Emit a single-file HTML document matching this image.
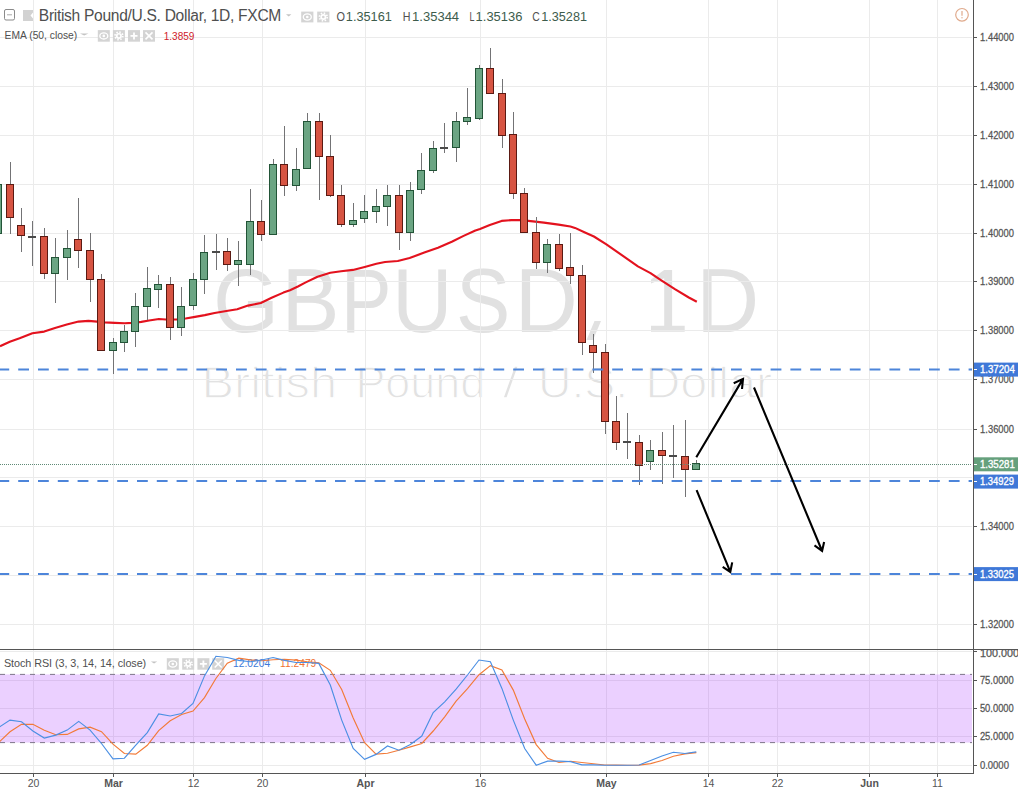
<!DOCTYPE html>
<html><head><meta charset="utf-8"><style>
html,body{margin:0;padding:0;background:#fff;overflow:hidden;}
svg{display:block;font-family:"Liberation Sans", sans-serif;}
</style></head><body>
<svg width="1018" height="789" viewBox="0 0 1018 789">
<rect x="0" y="0" width="1018" height="789" fill="#ffffff"/>
<g>
<text transform="translate(213.31 332.00) scale(0.9230 1)" font-size="91.4" fill="#e1e1e1" xml:space="preserve" >G</text>
<text transform="translate(281.44 332.00) scale(0.9510 1)" font-size="91.4" fill="#e1e1e1" xml:space="preserve" >B</text>
<text transform="translate(340.91 332.00) scale(0.8265 1)" font-size="91.4" fill="#e1e1e1" xml:space="preserve" >P</text>
<text transform="translate(392.32 332.00) scale(0.9115 1)" font-size="91.4" fill="#e1e1e1" xml:space="preserve" >U</text>
<text transform="translate(456.04 332.00) scale(0.8906 1)" font-size="91.4" fill="#e1e1e1" xml:space="preserve" >S</text>
<text transform="translate(514.82 332.00) scale(0.9545 1)" font-size="91.4" fill="#e1e1e1" xml:space="preserve" >D</text>
<text transform="translate(696.23 332.00) scale(0.9527 1)" font-size="91.4" fill="#e1e1e1" xml:space="preserve" >D</text>
<path d="M664.2 269.9H672.1V325.7H684.7V331.8H651V325.7H664.2V278.2L651 283.6V279.4Z" fill="#e1e1e1"/>
<path d="M594.5 321H601L593 340H586.5Z" fill="#e1e1e1"/>
<text transform="translate(201.42 397.80) scale(1.0950 1)" font-size="44.6" fill="#e2e2e2" xml:space="preserve" stroke="#fff" stroke-width="1.3">British</text>
<text transform="translate(355.38 397.80) scale(1.0073 1)" font-size="44.6" fill="#e2e2e2" xml:space="preserve" stroke="#fff" stroke-width="1.3">Pound</text>
<text transform="translate(502.80 397.80) scale(1.2769 1)" font-size="44.6" fill="#e2e2e2" xml:space="preserve" stroke="#fff" stroke-width="1.3">/</text>
<text transform="translate(537.98 397.80) scale(1.0400 1)" font-size="44.6" fill="#e2e2e2" xml:space="preserve" stroke="#fff" stroke-width="1.3">U.S.</text>
<text transform="translate(645.23 397.80) scale(1.0912 1)" font-size="44.6" fill="#e2e2e2" xml:space="preserve" stroke="#fff" stroke-width="1.3">Dollar</text>
</g>
<path d="M0 37.5H972M0 86.5H972M0 135.5H972M0 184.5H972M0 233.5H972M0 281.5H972M0 330.5H972M0 379.5H972M0 429.5H972M0 477.5H972M0 526.5H972M0 575.5H972M0 624.5H972M33.5 0V649M33.5 650V773M113.5 0V649M113.5 650V773M193.5 0V649M193.5 650V773M262.5 0V649M262.5 650V773M365.5 0V649M365.5 650V773M480.5 0V649M480.5 650V773M606.5 0V649M606.5 650V773M708.5 0V649M708.5 650V773M777.5 0V649M777.5 650V773M869.5 0V649M869.5 650V773M937.5 0V649M937.5 650V773M0 651.5H972M0 680.5H972M0 708.5H972M0 736.5H972M0 765.5H972" stroke="#ebebeb" stroke-width="1" fill="none" shape-rendering="crispEdges"/>
<rect x="0" y="674.4" width="972" height="68.2" fill="#9915ff" fill-opacity="0.2"/>
<path d="M0 674.4H972M0 742.6H972" stroke="#7e7689" stroke-width="1" stroke-dasharray="5 5" fill="none"/>
<polyline points="0.0,346.2 9.8,341.7 19.6,338.3 32.4,333.2 44.2,331.6 55.0,328.0 66.8,324.6 78.6,321.6 88.4,320.9 97.2,321.6 104.9,322.4 114.7,322.9 124.6,323.2 132.4,322.9 141.3,321.9 149.1,320.5 158.9,319.0 165.8,319.5 176.6,319.5 185.5,318.5 195.0,316.9 204.8,315.1 214.6,313.0 226.4,311.0 237.2,309.2 248.0,305.6 260.8,303.0 271.6,297.7 283.4,292.6 290.0,290.2 297.9,286.5 305.7,282.4 317.5,276.7 330.3,272.8 341.1,271.3 352.9,269.9 364.7,266.9 376.4,263.7 385.0,262.0 397.8,261.0 409.6,258.0 424.3,252.6 438.0,247.7 451.8,241.8 463.6,235.9 475.4,230.5 480.0,229.0 489.8,225.0 501.6,220.9 511.4,220.1 521.3,220.1 533.0,221.4 543.9,222.6 558.6,224.6 570.4,226.5 575.0,227.9 584.4,232.2 593.9,236.5 606.4,244.4 622.2,255.4 637.9,266.4 650.5,273.1 660.9,280.1 674.9,289.2 688.8,297.5 696.8,301.7" fill="none" stroke="#e3121e" stroke-width="2.1" stroke-linejoin="round"/>
<g shape-rendering="crispEdges"><rect x="-5.5" y="184.1" width="7" height="49.7" fill="#6ba583" stroke="#225437" stroke-width="1"/><rect x="10.0" y="161.8" width="1" height="72.4" fill="#737375"/><rect x="6.5" y="184.1" width="7" height="32.9" fill="#d75442" stroke="#5b1a13" stroke-width="1"/><rect x="21.0" y="208.2" width="1" height="44.2" fill="#737375"/><rect x="17.5" y="225.7" width="7" height="10.1" fill="#d75442" stroke="#5b1a13" stroke-width="1"/><rect x="32.0" y="221.0" width="1" height="44.6" fill="#737375"/><rect x="28.5" y="236.0" width="7" height="1.0" fill="#4a4a4a" stroke="#4a4a4a" stroke-width="1"/><rect x="44.0" y="227.7" width="1" height="51.5" fill="#737375"/><rect x="40.5" y="236.2" width="7" height="37.5" fill="#d75442" stroke="#5b1a13" stroke-width="1"/><rect x="55.0" y="237.8" width="1" height="64.7" fill="#737375"/><rect x="51.5" y="257.1" width="7" height="16.4" fill="#6ba583" stroke="#225437" stroke-width="1"/><rect x="67.0" y="230.2" width="1" height="49.5" fill="#737375"/><rect x="63.5" y="248.0" width="7" height="9.5" fill="#6ba583" stroke="#225437" stroke-width="1"/><rect x="78.0" y="198.1" width="1" height="69.8" fill="#737375"/><rect x="74.5" y="239.9" width="7" height="10.7" fill="#d75442" stroke="#5b1a13" stroke-width="1"/><rect x="90.0" y="233.4" width="1" height="68.3" fill="#737375"/><rect x="86.5" y="250.0" width="7" height="29.7" fill="#d75442" stroke="#5b1a13" stroke-width="1"/><rect x="101.0" y="273.9" width="1" height="76.9" fill="#737375"/><rect x="97.5" y="279.7" width="7" height="71.1" fill="#d75442" stroke="#5b1a13" stroke-width="1"/><rect x="113.0" y="337.9" width="1" height="36.0" fill="#737375"/><rect x="109.5" y="342.2" width="7" height="8.6" fill="#6ba583" stroke="#225437" stroke-width="1"/><rect x="124.0" y="324.5" width="1" height="27.4" fill="#737375"/><rect x="120.5" y="331.2" width="7" height="11.4" fill="#6ba583" stroke="#225437" stroke-width="1"/><rect x="135.0" y="293.0" width="1" height="53.6" fill="#737375"/><rect x="131.5" y="306.4" width="7" height="24.9" fill="#6ba583" stroke="#225437" stroke-width="1"/><rect x="147.0" y="266.9" width="1" height="52.8" fill="#737375"/><rect x="143.5" y="288.4" width="7" height="18.2" fill="#6ba583" stroke="#225437" stroke-width="1"/><rect x="158.0" y="274.9" width="1" height="33.0" fill="#737375"/><rect x="154.5" y="284.2" width="7" height="4.9" fill="#6ba583" stroke="#225437" stroke-width="1"/><rect x="170.0" y="276.5" width="1" height="63.2" fill="#737375"/><rect x="166.5" y="284.2" width="7" height="43.3" fill="#d75442" stroke="#5b1a13" stroke-width="1"/><rect x="181.0" y="286.7" width="1" height="49.2" fill="#737375"/><rect x="177.5" y="306.6" width="7" height="20.9" fill="#6ba583" stroke="#225437" stroke-width="1"/><rect x="193.0" y="273.0" width="1" height="37.4" fill="#737375"/><rect x="189.5" y="279.7" width="7" height="26.1" fill="#6ba583" stroke="#225437" stroke-width="1"/><rect x="204.0" y="234.9" width="1" height="58.6" fill="#737375"/><rect x="200.5" y="252.5" width="7" height="27.3" fill="#6ba583" stroke="#225437" stroke-width="1"/><rect x="216.0" y="234.3" width="1" height="35.5" fill="#737375"/><rect x="212.5" y="251.6" width="7" height="1.0" fill="#4a4a4a" stroke="#4a4a4a" stroke-width="1"/><rect x="227.0" y="238.0" width="1" height="33.4" fill="#737375"/><rect x="223.5" y="251.7" width="7" height="13.0" fill="#d75442" stroke="#5b1a13" stroke-width="1"/><rect x="238.0" y="241.4" width="1" height="45.0" fill="#737375"/><rect x="234.5" y="260.0" width="7" height="4.7" fill="#6ba583" stroke="#225437" stroke-width="1"/><rect x="250.0" y="189.3" width="1" height="85.6" fill="#737375"/><rect x="246.5" y="221.1" width="7" height="43.6" fill="#6ba583" stroke="#225437" stroke-width="1"/><rect x="261.0" y="199.8" width="1" height="41.0" fill="#737375"/><rect x="257.5" y="221.1" width="7" height="13.2" fill="#d75442" stroke="#5b1a13" stroke-width="1"/><rect x="273.0" y="158.6" width="1" height="75.6" fill="#737375"/><rect x="269.5" y="164.4" width="7" height="69.8" fill="#6ba583" stroke="#225437" stroke-width="1"/><rect x="284.0" y="125.7" width="1" height="70.1" fill="#737375"/><rect x="280.5" y="164.4" width="7" height="21.1" fill="#d75442" stroke="#5b1a13" stroke-width="1"/><rect x="296.0" y="147.9" width="1" height="43.5" fill="#737375"/><rect x="292.5" y="169.2" width="7" height="16.3" fill="#6ba583" stroke="#225437" stroke-width="1"/><rect x="307.0" y="112.8" width="1" height="55.5" fill="#737375"/><rect x="303.5" y="121.3" width="7" height="47.0" fill="#6ba583" stroke="#225437" stroke-width="1"/><rect x="319.0" y="112.8" width="1" height="87.4" fill="#737375"/><rect x="315.5" y="121.3" width="7" height="35.5" fill="#d75442" stroke="#5b1a13" stroke-width="1"/><rect x="330.0" y="134.6" width="1" height="62.6" fill="#737375"/><rect x="326.5" y="156.4" width="7" height="39.4" fill="#d75442" stroke="#5b1a13" stroke-width="1"/><rect x="341.0" y="184.7" width="1" height="42.6" fill="#737375"/><rect x="337.5" y="195.2" width="7" height="29.2" fill="#d75442" stroke="#5b1a13" stroke-width="1"/><rect x="353.0" y="202.8" width="1" height="23.7" fill="#737375"/><rect x="349.5" y="220.2" width="7" height="4.4" fill="#6ba583" stroke="#225437" stroke-width="1"/><rect x="364.0" y="195.2" width="1" height="28.2" fill="#737375"/><rect x="360.5" y="211.3" width="7" height="7.4" fill="#6ba583" stroke="#225437" stroke-width="1"/><rect x="376.0" y="189.4" width="1" height="33.3" fill="#737375"/><rect x="372.5" y="206.3" width="7" height="5.4" fill="#6ba583" stroke="#225437" stroke-width="1"/><rect x="387.0" y="184.7" width="1" height="41.0" fill="#737375"/><rect x="383.5" y="195.2" width="7" height="11.4" fill="#6ba583" stroke="#225437" stroke-width="1"/><rect x="399.0" y="184.7" width="1" height="65.0" fill="#737375"/><rect x="395.5" y="195.2" width="7" height="37.3" fill="#d75442" stroke="#5b1a13" stroke-width="1"/><rect x="410.0" y="181.7" width="1" height="58.9" fill="#737375"/><rect x="406.5" y="190.7" width="7" height="41.8" fill="#6ba583" stroke="#225437" stroke-width="1"/><rect x="421.0" y="152.9" width="1" height="41.2" fill="#737375"/><rect x="417.5" y="170.0" width="7" height="19.4" fill="#6ba583" stroke="#225437" stroke-width="1"/><rect x="433.0" y="140.9" width="1" height="32.3" fill="#737375"/><rect x="429.5" y="148.1" width="7" height="22.6" fill="#6ba583" stroke="#225437" stroke-width="1"/><rect x="444.0" y="122.8" width="1" height="30.4" fill="#737375"/><rect x="440.5" y="147.4" width="7" height="1.0" fill="#4a4a4a" stroke="#4a4a4a" stroke-width="1"/><rect x="456.0" y="112.0" width="1" height="49.7" fill="#737375"/><rect x="452.5" y="121.2" width="7" height="26.3" fill="#6ba583" stroke="#225437" stroke-width="1"/><rect x="467.0" y="88.1" width="1" height="36.4" fill="#737375"/><rect x="463.5" y="117.7" width="7" height="3.8" fill="#6ba583" stroke="#225437" stroke-width="1"/><rect x="479.0" y="64.7" width="1" height="55.4" fill="#737375"/><rect x="475.5" y="68.0" width="7" height="50.5" fill="#6ba583" stroke="#225437" stroke-width="1"/><rect x="490.0" y="48.1" width="1" height="45.6" fill="#737375"/><rect x="486.5" y="68.0" width="7" height="25.7" fill="#d75442" stroke="#5b1a13" stroke-width="1"/><rect x="502.0" y="78.9" width="1" height="68.6" fill="#737375"/><rect x="498.5" y="93.3" width="7" height="42.0" fill="#d75442" stroke="#5b1a13" stroke-width="1"/><rect x="513.0" y="112.0" width="1" height="87.1" fill="#737375"/><rect x="509.5" y="134.9" width="7" height="58.6" fill="#d75442" stroke="#5b1a13" stroke-width="1"/><rect x="524.0" y="188.4" width="1" height="44.1" fill="#737375"/><rect x="520.5" y="193.4" width="7" height="39.1" fill="#d75442" stroke="#5b1a13" stroke-width="1"/><rect x="536.0" y="217.0" width="1" height="51.7" fill="#737375"/><rect x="532.5" y="232.9" width="7" height="30.0" fill="#d75442" stroke="#5b1a13" stroke-width="1"/><rect x="547.0" y="238.9" width="1" height="33.9" fill="#737375"/><rect x="543.5" y="244.3" width="7" height="18.6" fill="#6ba583" stroke="#225437" stroke-width="1"/><rect x="559.0" y="234.0" width="1" height="36.5" fill="#737375"/><rect x="555.5" y="244.3" width="7" height="23.9" fill="#d75442" stroke="#5b1a13" stroke-width="1"/><rect x="570.0" y="233.2" width="1" height="50.7" fill="#737375"/><rect x="566.5" y="267.9" width="7" height="7.6" fill="#d75442" stroke="#5b1a13" stroke-width="1"/><rect x="582.0" y="264.9" width="1" height="90.5" fill="#737375"/><rect x="578.5" y="275.3" width="7" height="67.3" fill="#d75442" stroke="#5b1a13" stroke-width="1"/><rect x="593.0" y="334.2" width="1" height="38.3" fill="#737375"/><rect x="589.5" y="345.6" width="7" height="6.8" fill="#d75442" stroke="#5b1a13" stroke-width="1"/><rect x="605.0" y="344.0" width="1" height="89.5" fill="#737375"/><rect x="601.5" y="352.4" width="7" height="69.3" fill="#d75442" stroke="#5b1a13" stroke-width="1"/><rect x="616.0" y="396.3" width="1" height="53.7" fill="#737375"/><rect x="612.5" y="421.4" width="7" height="21.3" fill="#d75442" stroke="#5b1a13" stroke-width="1"/><rect x="627.0" y="413.4" width="1" height="45.6" fill="#737375"/><rect x="623.5" y="441.9" width="7" height="1.0" fill="#4a4a4a" stroke="#4a4a4a" stroke-width="1"/><rect x="639.0" y="434.6" width="1" height="50.2" fill="#737375"/><rect x="635.5" y="442.3" width="7" height="23.0" fill="#d75442" stroke="#5b1a13" stroke-width="1"/><rect x="650.0" y="439.9" width="1" height="30.0" fill="#737375"/><rect x="646.5" y="450.2" width="7" height="11.6" fill="#6ba583" stroke="#225437" stroke-width="1"/><rect x="662.0" y="432.0" width="1" height="51.8" fill="#737375"/><rect x="658.5" y="450.1" width="7" height="5.5" fill="#d75442" stroke="#5b1a13" stroke-width="1"/><rect x="673.0" y="425.0" width="1" height="53.3" fill="#737375"/><rect x="669.5" y="455.2" width="7" height="1.0" fill="#4a4a4a" stroke="#4a4a4a" stroke-width="1"/><rect x="685.0" y="420.0" width="1" height="76.9" fill="#737375"/><rect x="681.5" y="456.0" width="7" height="13.6" fill="#d75442" stroke="#5b1a13" stroke-width="1"/><rect x="696.0" y="460.1" width="1" height="10.2" fill="#737375"/><rect x="692.5" y="463.9" width="7" height="5.7" fill="#6ba583" stroke="#225437" stroke-width="1"/></g>
<path d="M0 369.6H972" stroke="#4d85da" stroke-width="2" stroke-dasharray="10.8 9" stroke-dashoffset="1.6" fill="none"/>
<path d="M0 480.9H972" stroke="#4d85da" stroke-width="2" stroke-dasharray="10.8 9" stroke-dashoffset="1.6" fill="none"/>
<path d="M0 574.1H972" stroke="#4d85da" stroke-width="2" stroke-dasharray="10.8 9" stroke-dashoffset="1.6" fill="none"/>
<path d="M0 464.5H972" stroke="#5f8a76" stroke-width="1" stroke-dasharray="1 1" fill="none" shape-rendering="crispEdges"/>
<path d="M696.3 457.2L743 378.9M733.7 383.3L743 378.9L742 389" stroke="#000" stroke-width="2.1" fill="none" stroke-linecap="butt" stroke-linejoin="miter"/>
<path d="M754 387.5L822.1 551M814.5 545.4L822.1 551L824.1 541.9" stroke="#000" stroke-width="2.1" fill="none" stroke-linecap="butt" stroke-linejoin="miter"/>
<path d="M696.6 490.1L730.3 571.9M722.7 566.8L730.3 571.9L732.2 562.4" stroke="#000" stroke-width="2.1" fill="none" stroke-linecap="butt" stroke-linejoin="miter"/>
<text x="3.90" y="666.90" letter-spacing="-0.057" font-size="10.8" fill="#4f4f4f" xml:space="preserve" >Stoch RSI (3, 3, 14, 14, close)</text>
<path d="M150.9 661.4H157.2L154.05 663.6Z" fill="#c4c4c4"/>
<rect x="166.8" y="658.2" width="12" height="11.5" fill="#d4d4d4"/><ellipse cx="172.8" cy="663.95" rx="4" ry="3.1" fill="none" stroke="#fff" stroke-width="1.3"/><circle cx="172.8" cy="663.95" r="1.3" fill="#fff"/><rect x="182.2" y="658.2" width="12" height="11.5" fill="#d4d4d4"/><circle cx="188.2" cy="663.95" r="3" fill="#fff"/><circle cx="188.2" cy="663.95" r="3.9" fill="none" stroke="#fff" stroke-width="1.6" stroke-dasharray="1.5 1.56"/><circle cx="188.2" cy="663.95" r="1.3" fill="#d4d4d4"/><rect x="197.4" y="658.2" width="12" height="11.5" fill="#d4d4d4"/><path d="M199.9 663.95H206.9M203.4 660.45V667.45" stroke="#fff" stroke-width="1.8"/><rect x="212.2" y="658.2" width="12" height="11.5" fill="#d4d4d4"/><path d="M214.7 660.45L221.7 667.45M221.7 660.45L214.7 667.45" stroke="#fff" stroke-width="1.6"/>
<text transform="translate(233.10 667.30) scale(0.9763 1)" font-size="10.5" fill="#3c78d8" xml:space="preserve" >12.0204</text>
<text transform="translate(280.00 667.30) scale(0.9784 1)" font-size="10.5" fill="#f07030" xml:space="preserve" >11.2479</text>
<polyline points="-1.4,742.6 10.0,731.8 21.5,724.3 32.9,724.3 44.3,730.3 55.8,734.7 67.2,734.4 78.7,728.9 90.1,727.2 101.5,731.7 113.0,744.1 124.4,753.5 135.8,754.1 147.3,745.3 158.7,730.6 170.2,720.8 181.6,714.5 193.0,711.0 204.5,697.6 215.9,678.5 227.3,663.2 238.8,658.1 250.2,659.9 261.7,660.7 273.1,659.7 284.5,659.3 296.0,660.1 307.4,661.8 318.8,662.8 330.3,670.3 341.7,689.5 353.2,717.9 364.6,742.7 376.0,754.1 387.5,753.3 398.9,750.2 410.4,746.9 421.8,743.5 433.2,731.0 444.7,716.8 456.1,701.2 467.5,688.7 479.0,674.7 490.4,665.6 501.9,670.0 513.3,690.1 524.7,719.0 536.2,744.6 547.6,758.3 559.0,762.5 570.5,761.3 581.9,762.5 593.4,763.8 604.8,765.0 616.2,765.1 627.7,765.2 639.1,765.1 650.6,763.6 662.0,760.5 673.4,756.3 684.9,753.9 696.3,752.6" fill="none" stroke="#f27a38" stroke-width="1.15"/>
<polyline points="-1.4,727.6 10.0,720.1 21.5,721.8 32.9,731.0 44.3,738.1 55.8,735.1 67.2,730.1 78.7,721.4 90.1,730.1 101.5,743.5 113.0,758.8 124.4,758.2 135.8,745.2 147.3,732.6 158.7,713.9 170.2,716.0 181.6,713.5 193.0,703.4 204.5,675.9 215.9,656.3 227.3,657.5 238.8,660.4 250.2,661.7 261.7,660.0 273.1,657.5 284.5,660.4 296.0,662.5 307.4,662.5 318.8,663.4 330.3,685.1 341.7,720.1 353.2,748.5 364.6,759.4 376.0,754.4 387.5,746.0 398.9,750.2 410.4,744.4 421.8,736.0 433.2,712.6 444.7,701.8 456.1,689.2 467.5,675.0 479.0,660.0 490.4,661.7 501.9,688.4 513.3,720.1 524.7,748.5 536.2,765.2 547.6,761.1 559.0,761.1 570.5,761.6 581.9,764.9 593.4,764.9 604.8,765.2 616.2,765.2 627.7,765.2 639.1,765.0 650.6,760.5 662.0,756.0 673.4,752.3 684.9,753.5 696.3,751.9" fill="none" stroke="#4b8fe3" stroke-width="1.15"/>
<path d="M973.5 0V773.5M0 649.5H1018M0 773.5H974.0" stroke="#555555" stroke-width="1" fill="none" shape-rendering="crispEdges"/>
<text transform="translate(980.10 41.00) scale(0.8846 1)" font-size="10.6" fill="#555" xml:space="preserve" stroke="#555" stroke-width="0.25">1.44000</text>
<text transform="translate(980.10 90.00) scale(0.8846 1)" font-size="10.6" fill="#555" xml:space="preserve" stroke="#555" stroke-width="0.25">1.43000</text>
<text transform="translate(980.10 139.00) scale(0.8846 1)" font-size="10.6" fill="#555" xml:space="preserve" stroke="#555" stroke-width="0.25">1.42000</text>
<text transform="translate(980.10 188.00) scale(0.8846 1)" font-size="10.6" fill="#555" xml:space="preserve" stroke="#555" stroke-width="0.25">1.41000</text>
<text transform="translate(980.10 237.00) scale(0.8846 1)" font-size="10.6" fill="#555" xml:space="preserve" stroke="#555" stroke-width="0.25">1.40000</text>
<text transform="translate(980.10 285.00) scale(0.8846 1)" font-size="10.6" fill="#555" xml:space="preserve" stroke="#555" stroke-width="0.25">1.39000</text>
<text transform="translate(980.10 334.00) scale(0.8846 1)" font-size="10.6" fill="#555" xml:space="preserve" stroke="#555" stroke-width="0.25">1.38000</text>
<text transform="translate(980.10 383.00) scale(0.8846 1)" font-size="10.6" fill="#555" xml:space="preserve" stroke="#555" stroke-width="0.25">1.37000</text>
<text transform="translate(980.10 433.00) scale(0.8846 1)" font-size="10.6" fill="#555" xml:space="preserve" stroke="#555" stroke-width="0.25">1.36000</text>
<text transform="translate(980.10 530.00) scale(0.8846 1)" font-size="10.6" fill="#555" xml:space="preserve" stroke="#555" stroke-width="0.25">1.34000</text>
<text transform="translate(980.10 628.00) scale(0.8846 1)" font-size="10.6" fill="#555" xml:space="preserve" stroke="#555" stroke-width="0.25">1.32000</text>
<text x="979.9" y="656.5" font-size="10.6" fill="#555" stroke="#555" stroke-width="0.25" textLength="45" lengthAdjust="spacingAndGlyphs">100.0000</text>
<text transform="translate(979.90 684.10) scale(0.8846 1)" font-size="10.6" fill="#555" xml:space="preserve" stroke="#555" stroke-width="0.25">75.0000</text>
<text transform="translate(979.90 712.10) scale(0.8846 1)" font-size="10.6" fill="#555" xml:space="preserve" stroke="#555" stroke-width="0.25">50.0000</text>
<text transform="translate(979.90 740.10) scale(0.8846 1)" font-size="10.6" fill="#555" xml:space="preserve" stroke="#555" stroke-width="0.25">25.0000</text>
<text transform="translate(979.90 769.10) scale(0.8961 1)" font-size="10.6" fill="#555" xml:space="preserve" stroke="#555" stroke-width="0.25">0.0000</text>
<path d="M974 37.5H976.5M974 86.5H976.5M974 135.5H976.5M974 184.5H976.5M974 233.5H976.5M974 281.5H976.5M974 330.5H976.5M974 379.5H976.5M974 429.5H976.5M974 477.5H976.5M974 526.5H976.5M974 575.5H976.5M974 624.5H976.5M974 651.5H976.5M974 680.5H976.5M974 708.5H976.5M974 736.5H976.5M974 765.5H976.5M33.5 774V777M113.5 774V777M193.5 774V777M262.5 774V777M365.5 774V777M480.5 774V777M606.5 774V777M708.5 774V777M777.5 774V777M869.5 774V777M937.5 774V777" stroke="#555555" stroke-width="1" fill="none" shape-rendering="crispEdges"/>
<rect x="974" y="362.6" width="44" height="14" fill="#3f78d8"/><path d="M974 369.5H976.5" stroke="#fff" stroke-width="1" shape-rendering="crispEdges"/>
<text transform="translate(979.90 373.24) scale(0.9132 1)" font-size="10.6" fill="#fff" xml:space="preserve" stroke="#fff" stroke-width="0.35">1.37204</text>
<rect x="974" y="457.3" width="44" height="14" fill="#65a07c"/><path d="M974 464.5H976.5" stroke="#fff" stroke-width="1" shape-rendering="crispEdges"/>
<text transform="translate(979.90 467.90) scale(0.9132 1)" font-size="10.6" fill="#fff" xml:space="preserve" stroke="#fff" stroke-width="0.35">1.35281</text>
<rect x="974" y="474.6" width="44" height="14" fill="#3f78d8"/><path d="M974 481.5H976.5" stroke="#fff" stroke-width="1" shape-rendering="crispEdges"/>
<text transform="translate(979.90 485.20) scale(0.8897 1)" font-size="10.6" fill="#fff" xml:space="preserve" stroke="#fff" stroke-width="0.35">1.34929</text>
<rect x="974" y="567.1" width="44" height="14" fill="#3f78d8"/><path d="M974 574.5H976.5" stroke="#fff" stroke-width="1" shape-rendering="crispEdges"/>
<text transform="translate(979.90 577.66) scale(0.8897 1)" font-size="10.6" fill="#fff" xml:space="preserve" stroke="#fff" stroke-width="0.35">1.33025</text>
<text x="33.5" y="786.5" font-size="10.5" fill="#555" text-anchor="middle">20</text>
<text x="113.5" y="786.5" font-size="10.5" fill="#555" text-anchor="middle" font-weight="bold">Mar</text>
<text x="193.5" y="786.5" font-size="10.5" fill="#555" text-anchor="middle">12</text>
<text x="262.5" y="786.5" font-size="10.5" fill="#555" text-anchor="middle">20</text>
<text x="365.5" y="786.5" font-size="10.5" fill="#555" text-anchor="middle" font-weight="bold">Apr</text>
<text x="480.5" y="786.5" font-size="10.5" fill="#555" text-anchor="middle">16</text>
<text x="606.5" y="786.5" font-size="10.5" fill="#555" text-anchor="middle" font-weight="bold">May</text>
<text x="708.5" y="786.5" font-size="10.5" fill="#555" text-anchor="middle">14</text>
<text x="777.5" y="786.5" font-size="10.5" fill="#555" text-anchor="middle">22</text>
<text x="869.5" y="786.5" font-size="10.5" fill="#555" text-anchor="middle" font-weight="bold">Jun</text>
<text x="937.5" y="786.5" font-size="10.5" fill="#555" text-anchor="middle">11</text>
<rect x="4.5" y="9.5" width="10" height="10.5" rx="1.5" fill="none" stroke="#8a8a8a" stroke-width="1"/><path d="M7 14.8H12" stroke="#aaa" stroke-width="1"/>
<path d="M23 10H33V12.5L30.5 15.5L33 18.5V21H23Z" fill="#d2d2d2"/>
<text x="38.80" y="20.70" letter-spacing="-0.309" font-size="15.6" fill="#4f4f4f" xml:space="preserve" >British Pound/U.S. Dollar, 1D, FXCM</text>
<path d="M286 14.2H291.4L288.7 16.4Z" fill="#c4c4c4"/>
<rect x="301.2" y="11.6" width="12.2" height="10.8" fill="#d4d4d4"/><ellipse cx="307.3" cy="17.0" rx="4" ry="3.1" fill="none" stroke="#fff" stroke-width="1.3"/><circle cx="307.3" cy="17.0" r="1.3" fill="#fff"/><rect x="317.2" y="11.6" width="12.2" height="10.8" fill="#d4d4d4"/><circle cx="323.3" cy="17.0" r="3" fill="#fff"/><circle cx="323.3" cy="17.0" r="3.9" fill="none" stroke="#fff" stroke-width="1.6" stroke-dasharray="1.5 1.56"/><circle cx="323.3" cy="17.0" r="1.3" fill="#d4d4d4"/>
<text transform="translate(336.60 21.40) scale(0.8400 1)" font-size="13" fill="#4f4f4f" xml:space="preserve" >O</text>
<text transform="translate(345.82 21.40) scale(0.9804 1)" font-size="13" fill="#3d5c4c" xml:space="preserve" >1.35161</text>
<text transform="translate(402.80 21.40) scale(0.8222 1)" font-size="13" fill="#4f4f4f" xml:space="preserve" >H</text>
<text transform="translate(412.10 21.40) scale(1.0000 1)" font-size="13" fill="#3d5c4c" xml:space="preserve" >1.35344</text>
<text transform="translate(469.40 21.40) scale(0.6857 1)" font-size="13" fill="#4f4f4f" xml:space="preserve" >L</text>
<text transform="translate(475.60 21.40) scale(0.9957 1)" font-size="13" fill="#3d5c4c" xml:space="preserve" >1.35136</text>
<text transform="translate(532.30 21.40) scale(0.8000 1)" font-size="13" fill="#4f4f4f" xml:space="preserve" >C</text>
<text transform="translate(541.23 21.40) scale(0.9739 1)" font-size="13" fill="#3d5c4c" xml:space="preserve" >1.35281</text>
<text transform="translate(4.60 38.90) scale(0.9904 1)" font-size="10.4" fill="#4f4f4f" xml:space="preserve" >EMA (50, close)</text>
<path d="M80 33.5H88.4L84.2 35.5Z" fill="#c4c4c4"/>
<rect x="97.8" y="30.1" width="12" height="11.6" fill="#d4d4d4"/><ellipse cx="103.8" cy="35.9" rx="4" ry="3.1" fill="none" stroke="#fff" stroke-width="1.3"/><circle cx="103.8" cy="35.9" r="1.3" fill="#fff"/><rect x="112.9" y="30.1" width="12" height="11.6" fill="#d4d4d4"/><circle cx="118.9" cy="35.9" r="3" fill="#fff"/><circle cx="118.9" cy="35.9" r="3.9" fill="none" stroke="#fff" stroke-width="1.6" stroke-dasharray="1.5 1.56"/><circle cx="118.9" cy="35.9" r="1.3" fill="#d4d4d4"/><rect x="128" y="30.1" width="12" height="11.6" fill="#d4d4d4"/><path d="M130.5 35.9H137.5M134.0 32.4V39.4" stroke="#fff" stroke-width="1.8"/><rect x="143" y="30.1" width="12" height="11.6" fill="#d4d4d4"/><path d="M145.5 32.4L152.5 39.4M152.5 32.4L145.5 39.4" stroke="#fff" stroke-width="1.6"/>
<text transform="translate(163.68 39.50) scale(0.9152 1)" font-size="11" fill="#d0202a" xml:space="preserve" >1.3859</text>
<circle cx="962" cy="14.8" r="6.3" fill="none" stroke="#e0aa8c" stroke-width="1.2"/><path d="M962 11V15.8" stroke="#e0aa8c" stroke-width="1.2"/><circle cx="962" cy="17.8" r="0.7" fill="#e0aa8c"/>
</svg></body></html>
